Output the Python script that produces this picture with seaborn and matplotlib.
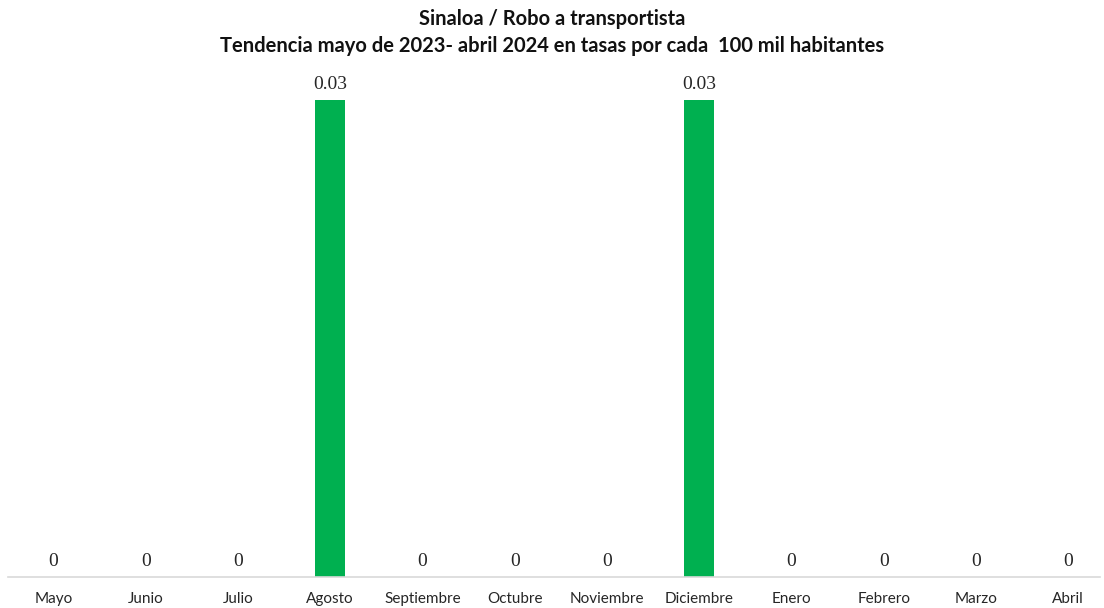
import matplotlib
matplotlib.use("Agg")
import matplotlib.pyplot as plt
import seaborn as sns
import pandas as pd

months = ["Mayo", "Junio", "Julio", "Agosto", "Septiembre", "Octubre",
          "Noviembre", "Diciembre", "Enero", "Febrero", "Marzo", "Abril"]
values = [0, 0, 0, 0.03, 0, 0, 0, 0.03, 0, 0, 0, 0]
labels = ["0", "0", "0", "0.03", "0", "0", "0", "0.03", "0", "0", "0", "0"]

sns.set_theme(style="white")
plt.rcParams['font.family'] = ['Lato', 'DejaVu Sans']

df = pd.DataFrame({"mes": months, "tasa": values})

W, H = 1104, 608
fig = plt.figure(figsize=(W / 100, H / 100), dpi=100)
ax_left, ax_right = 8, 1100
ax_bottom_px, ax_top_px = 577, 92
ax = fig.add_axes([ax_left / W, (H - ax_bottom_px) / H,
                   (ax_right - ax_left) / W, (ax_bottom_px - ax_top_px) / H])

sns.barplot(data=df, x="mes", y="tasa", color="#00B050", width=0.32,
            saturation=1, linewidth=0, ax=ax)

first_c = 53.5
unit = 92.25
ax.set_xlim(-(first_c - ax_left) / unit, (ax_right - first_c) / unit)
ax.set_ylim(0, 0.03 * (ax_bottom_px - ax_top_px) / (ax_bottom_px - 100))

for i, (v, lab) in enumerate(zip(values, labels)):
    ax.annotate(lab, (i, v), xytext=(0, 5), textcoords="offset points",
                ha="center", va="bottom", fontsize=14,
                family=["Liberation Serif", "DejaVu Serif"], color="#262626")

ax.set_xlabel("")
ax.set_ylabel("")
ax.set_yticks([])
ax.tick_params(axis="x", length=0, labelsize=11, colors="#262626", pad=11)
for s in ["top", "right", "left"]:
    ax.spines[s].set_visible(False)
ax.spines["bottom"].set_color("#d9d9d9")
ax.spines["bottom"].set_linewidth(1.2)

fig.text(0.5, 1 - 19 / H, "Sinaloa / Robo a transportista", ha="center",
         va="center", fontsize=14.5, fontweight="bold", color="#111111")
fig.text(0.5, 1 - 46 / H,
         "Tendencia mayo de 2023- abril 2024 en tasas por cada  100 mil habitantes",
         ha="center", va="center", fontsize=14.5, fontweight="bold", color="#111111")

fig.savefig("out.png", dpi=100)
